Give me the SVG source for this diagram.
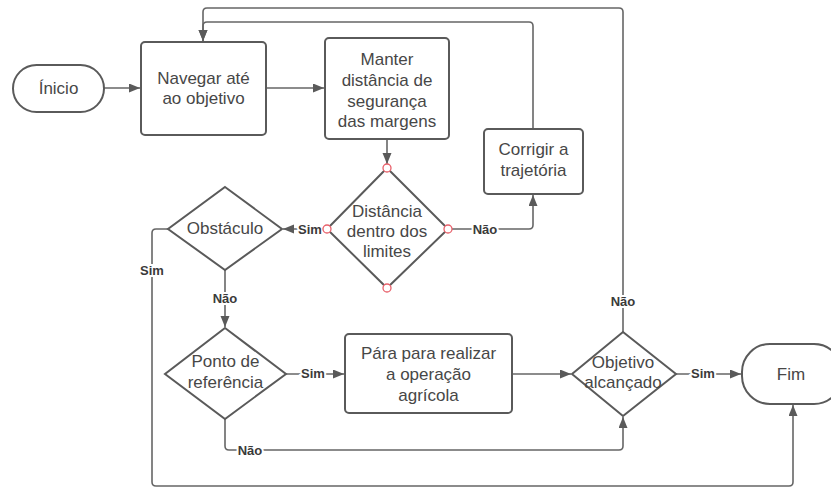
<svg xmlns="http://www.w3.org/2000/svg" width="831" height="488" viewBox="0 0 831 488">
<defs>
<marker id="arr" markerUnits="userSpaceOnUse" markerWidth="12" markerHeight="10" refX="11" refY="4.5" orient="auto">
<path d="M0,0 L11,4.5 L0,9 z" fill="#5a5a5a"/>
</marker>
<style>
.shape{fill:#fff;stroke:#5a5a5a;stroke-width:2}
.conn{fill:none;stroke:#666;stroke-width:1.6;marker-end:url(#arr)}
.t{font-family:"Liberation Sans",Arial,sans-serif;font-size:17px;fill:#474747;text-anchor:middle}
.lbl{font-family:"Liberation Sans",Arial,sans-serif;font-size:13px;font-weight:bold;fill:#3a3a3a;text-anchor:middle;stroke:#fff;stroke-width:4;paint-order:stroke;dominant-baseline:central}
.pt{fill:#fff;stroke:#e8606a;stroke-width:1.3}
</style>
</defs>
<rect width="831" height="488" fill="#fff"/>
<g id="connectors">
<path class="conn" d="M104,88 H140"/>
<path class="conn" d="M266,88 H324"/>
<path class="conn" d="M387,139 V164"/>
<path class="conn" d="M452,229 H529 Q533,229 533,225 V195"/>
<path class="conn" d="M533,129 V26 Q533,22 529,22 H207 Q203,22 203,26 V41"/>
<path class="conn" d="M323,229 H283"/>
<path class="conn" d="M168,229 H156 Q152,229 152,233 V482 Q152,486 156,486 H789 Q793,486 793,482 V405"/>
<path class="conn" d="M225,270 V327"/>
<path class="conn" d="M286,374 H344"/>
<path class="conn" d="M512,374 H571"/>
<path class="conn" d="M225,419 V446 Q225,450 229,450 H619 Q623,450 623,446 V417"/>
<path class="conn" d="M676,374 H741"/>
<path class="conn" d="M623,332 V12 Q623,8 619,8 H207 Q203,8 203,12 V41"/>
<text class="lbl" x="310" y="229">Sim</text>
<text class="lbl" x="485" y="229">Não</text>
<text class="lbl" x="152" y="270">Sim</text>
<text class="lbl" x="225" y="298">Não</text>
<text class="lbl" x="313" y="373">Sim</text>
<text class="lbl" x="250" y="450">Não</text>
<text class="lbl" x="623" y="301">Não</text>
<text class="lbl" x="703" y="373">Sim</text>
</g>
<g id="inicio">
<rect class="shape" x="13" y="65" width="91" height="47" rx="23.5"/>
<text class="t" x="58.5" y="94">Ínicio</text>
</g>
<g id="navegar">
<rect class="shape" x="141" y="42" width="125" height="93" rx="4"/>
<text class="t" x="203.5" y="84">Navegar até</text>
<text class="t" x="203.5" y="104">ao objetivo</text>
</g>
<g id="manter">
<rect class="shape" x="325" y="38" width="124" height="101" rx="4"/>
<text class="t" x="387" y="65">Manter</text>
<text class="t" x="387" y="86">distância de</text>
<text class="t" x="387" y="107">segurança</text>
<text class="t" x="387" y="127">das margens</text>
</g>
<g id="corrigir">
<rect class="shape" x="484" y="129" width="99" height="65" rx="4"/>
<text class="t" x="533.5" y="155">Corrigir a</text>
<text class="t" x="533.5" y="176">trajetória</text>
</g>
<g id="distancia">
<polygon class="shape" points="387,168 448,229 387,288 327,229"/>
<text class="t" x="387" y="217">Distância</text>
<text class="t" x="387" y="237">dentro dos</text>
<text class="t" x="387" y="257">limites</text>
<circle class="pt" cx="387" cy="168" r="4"/>
<circle class="pt" cx="327" cy="229" r="4"/>
<circle class="pt" cx="448" cy="229" r="4"/>
<circle class="pt" cx="387" cy="288" r="4"/>
</g>
<g id="obstaculo">
<polygon class="shape" points="225,187 282,229 225,270 168,229"/>
<text class="t" x="225" y="234">Obstáculo</text>
</g>
<g id="ponto">
<polygon class="shape" points="225,328 286,374 225,419 165,374"/>
<text class="t" x="225.5" y="367">Ponto de</text>
<text class="t" x="225.5" y="388">referência</text>
</g>
<g id="para">
<rect class="shape" x="345" y="334" width="167" height="79" rx="4"/>
<text class="t" x="428.5" y="359">Pára para realizar</text>
<text class="t" x="428.5" y="380">a operação</text>
<text class="t" x="428.5" y="401">agrícola</text>
</g>
<g id="objetivo">
<polygon class="shape" points="623,332 676,374 623,416 572,374"/>
<text class="t" x="623" y="368">Objetivo</text>
<text class="t" x="623" y="388">alcançado</text>
</g>
<g id="fim">
<rect class="shape" x="742" y="344" width="100" height="60" rx="28"/>
<text class="t" x="791" y="380">Fim</text>
</g>
</svg>
